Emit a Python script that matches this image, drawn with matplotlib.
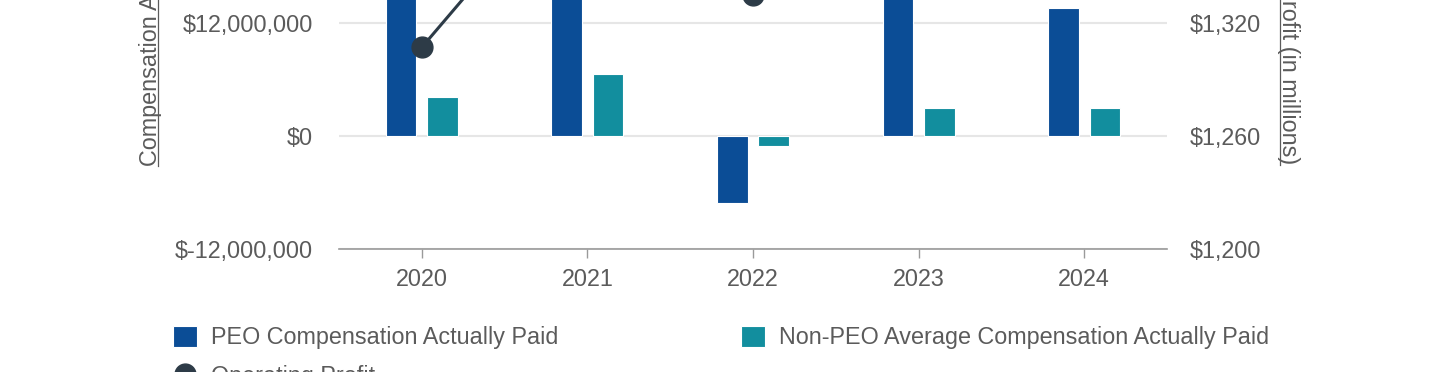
import matplotlib
matplotlib.use("Agg")
import matplotlib.pyplot as plt
import numpy as np
from matplotlib.lines import Line2D
from matplotlib.patches import Patch

plt.rcParams['font.family'] = ['Liberation Sans', 'DejaVu Sans']

# data (bars cut off at the top are estimates)
years = ['2020', '2021', '2022', '2023', '2024']
peo_cap = [21500000, 26000000, -7170000, 19000000, 13580000]
non_peo_cap = [4180000, 6620000, -1020000, 2910000, 2910000]
operating_profit = [1307, 1410, 1335, 1395, 1425]

left_ticks = [-12000000, 0, 12000000, 24000000, 36000000]
right_ticks = [1200, 1260, 1320, 1380, 1440]

PEO_COLOR = '#0b4d96'
NON_PEO_COLOR = '#128e9e'
LINE_COLOR = '#2d3b47'
TEXT_COLOR = '#5b5b5b'
FS = 16.8

W, H = 1440, 372
fig = plt.figure(figsize=(W / 100, H / 100), dpi=100)
# the reference is cropped at the top, so the axes reach past the figure edge
ax = fig.add_axes([339 / W, 123 / H, 828 / W, 452.4 / H])

x = np.arange(len(years))
ax.bar(x - 0.125, peo_cap, width=0.184, color=PEO_COLOR,
       edgecolor='white', linewidth=0.8, zorder=2)
ax.bar(x + 0.125, non_peo_cap, width=0.184, color=NON_PEO_COLOR,
       edgecolor='white', linewidth=0.8, zorder=2)

ax.set_xlim(-0.5, 4.5)
ax.set_ylim(left_ticks[0], left_ticks[-1])
ax.set_yticks(left_ticks)
ax.set_yticklabels([f"${v:,.0f}" for v in left_ticks])
ax.set_xticks(x)
ax.set_xticklabels(years)
ax.yaxis.grid(True, color='#e6e6e6', linewidth=1.5, zorder=0)
ax.set_axisbelow(True)
for s in ['top', 'left', 'right']:
    ax.spines[s].set_visible(False)
ax.spines['bottom'].set_color('#9a9a9a')
ax.spines['bottom'].set_linewidth(1.2)
ax.spines['bottom'].set_zorder(3)
ax.tick_params(axis='y', length=0, pad=18.7, labelsize=FS, labelcolor=TEXT_COLOR)
ax.tick_params(axis='x', length=6.5, width=1, color='#9a9a9a', pad=7.5,
               labelsize=FS, labelcolor=TEXT_COLOR)
for t in ax.get_yticklabels():
    t.set_va('center_baseline')

ax2 = ax.twinx()
ax2.plot(x, operating_profit, color=LINE_COLOR, linewidth=2.2,
         marker='o', markersize=15, zorder=4)
ax2.set_ylim(right_ticks[0], right_ticks[-1])
ax2.set_yticks(right_ticks)
ax2.set_yticklabels([f"${v:,.0f}" for v in right_ticks])
for s in ax2.spines.values():
    s.set_visible(False)
ax2.tick_params(axis='y', length=0, pad=16.6, labelsize=FS, labelcolor=TEXT_COLOR)
for t in ax2.get_yticklabels():
    t.set_va('center_baseline')

left_lbl = ax.text((156.7 - 339) / 828, 0.506, 'Compensation Actually Paid',
                   transform=ax.transAxes, rotation=90, rotation_mode='anchor',
                   ha='center', va='baseline', fontsize=FS, color=TEXT_COLOR)
right_lbl = ax.text((1282 - 339) / 828, 0.506, 'Operating Profit (in millions)',
                    transform=ax.transAxes, rotation=270, rotation_mode='anchor',
                    ha='center', va='baseline', fontsize=FS, color=TEXT_COLOR)

# underline the axis titles
fig.canvas.draw()
r = fig.canvas.get_renderer()
for lbl, ux in [(left_lbl, 157.7), (right_lbl, 1280.3)]:
    bb = lbl.get_window_extent(r)
    fig.add_artist(Line2D([ux / W, ux / W], [bb.y0 / H, bb.y1 / H],
                          transform=fig.transFigure, color=TEXT_COLOR, linewidth=0.9))

handles = [
    Patch(facecolor=PEO_COLOR, edgecolor='white', linewidth=0.8),
    Line2D([], [], color=LINE_COLOR, marker='o', markersize=15, linestyle='None'),
    Patch(facecolor=NON_PEO_COLOR, edgecolor='white', linewidth=0.8),
]
labels = ['PEO Compensation Actually Paid', 'Operating Profit',
          'Non-PEO Average Compensation Actually Paid']
fig.legend(handles, labels, loc='upper left', bbox_to_anchor=(173.3 / W, 1 - 326 / H),
           frameon=False, ncol=2, fontsize=FS, handlelength=1.0, handleheight=1.0,
           handletextpad=0.6, columnspacing=7.85, labelspacing=0.66,
           borderpad=0, borderaxespad=0, labelcolor=TEXT_COLOR)

fig.savefig('out.png', dpi=100)
